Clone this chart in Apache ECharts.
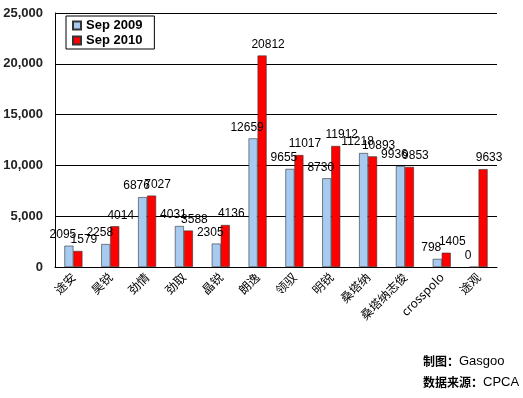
<!DOCTYPE html>
<html>
<head>
<meta charset="utf-8">
<script src="https://cdn.jsdelivr.net/npm/echarts@6/dist/echarts.min.js"></script>
<style>
  html, body { margin: 0; padding: 0; background: #fff; }
  #chart { width: 523px; height: 398px; }
</style>
</head>
<body>
<div id="chart"></div>
<script>
// 车型
var categories = ["途安", "昊锐", "劲情", "劲取", "晶锐", "朗逸", "领驭", "明锐", "桑塔纳", "桑塔纳志俊", "crosspolo", "途观"];
var sep2009 = [2095, 2258, 6876, 4031, 2305, 12659, 9655, 8730, 11218, 9936, 798, 0];
var sep2010 = [1579, 4014, 7027, 3588, 4136, 20812, 11017, 11912, 10893, 9853, 1405, 9633];
var yTicks = [0, 5000, 10000, 15000, 20000, 25000];

var labelStyle = {
  show: true,
  position: "top",
  color: "#000",
  fontSize: 12,
  fontFamily: "Arial, Liberation Sans"
};

var option = {
  animation: false,
  grid: { left: 55, right: 26, top: 13, bottom: 131 },
  legend: {
    left: 66,
    top: 16,
    orient: "vertical",
    icon: "rect",
    itemWidth: 8,
    itemHeight: 8,
    itemGap: 2,
    padding: [3, 12, 2, 6],
    borderColor: "#000",
    borderWidth: 1,
    textStyle: { fontSize: 13, fontWeight: "bold", fontFamily: "Arial, Liberation Sans", color: "#000" },
    data: ["Sep 2009", "Sep 2010"]
  },
  xAxis: {
    type: "category",
    data: categories,
    axisLine: { lineStyle: { color: "#000" } },
    axisTick: { inside: true, length: 4, lineStyle: { color: "#000" } },
    axisLabel: {
      rotate: 45,
      margin: 8,
      color: "#000",
      fontSize: 12,
      fontFamily: "Noto Sans CJK SC"
    }
  },
  yAxis: {
    type: "value",
    min: yTicks[0],
    max: yTicks[yTicks.length - 1],
    interval: 5000,
    axisLine: { show: true, lineStyle: { color: "#000" } },
    axisTick: { show: false },
    splitLine: { lineStyle: { color: "#000", width: 1 } },
    axisLabel: {
      margin: 12,
      color: "#222",
      fontSize: 13,
      fontWeight: "bold",
      fontFamily: "Arial, Liberation Sans",
      formatter: function (v) { return v.toLocaleString("en-US"); }
    }
  },
  series: [
    {
      name: "Sep 2009",
      type: "bar",
      data: sep2009,
      barWidth: 9,
      barGap: "0%",
      itemStyle: { color: "#a6caf0", borderColor: "#333", borderWidth: 0.6 },
      label: Object.assign({}, labelStyle, { offset: [-6, 0] })
    },
    {
      name: "Sep 2010",
      type: "bar",
      data: sep2010,
      barWidth: 9,
      itemStyle: { color: "#ff0000", borderColor: "#333", borderWidth: 0.6 },
      label: Object.assign({}, labelStyle, { offset: [6, 0] })
    }
  ],
  graphic: [
    {
      type: "text",
      left: 423,
      top: 355,
      style: {
        text: "{b|制图：}{n|Gasgoo}",
        rich: {
          b: { fill: "#000", fontSize: 12, fontWeight: "bold", fontFamily: "Noto Sans CJK SC" },
          n: { fill: "#000", fontSize: 13, fontFamily: "Arial, Liberation Sans" }
        }
      }
    },
    {
      type: "text",
      left: 423,
      top: 376,
      style: {
        text: "{b|数据来源：}{n|CPCA}",
        rich: {
          b: { fill: "#000", fontSize: 12, fontWeight: "bold", fontFamily: "Noto Sans CJK SC" },
          n: { fill: "#000", fontSize: 13, fontFamily: "Arial, Liberation Sans" }
        }
      }
    }
  ]
};

var myChart = echarts.init(document.getElementById("chart"));
myChart.setOption(option);
</script>
</body>
</html>
